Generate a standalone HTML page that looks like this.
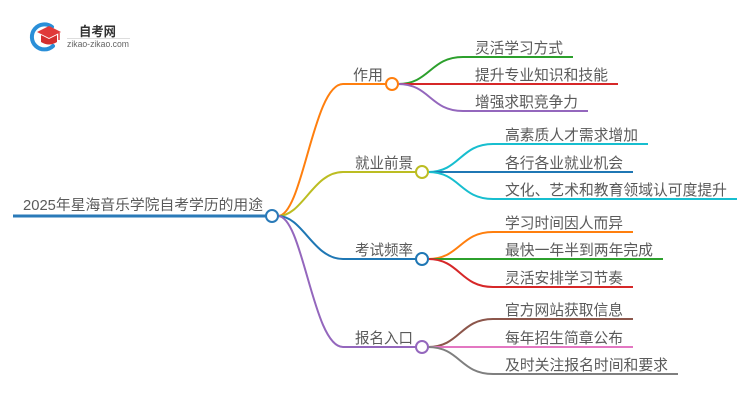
<!DOCTYPE html>
<html>
<head>
<meta charset="utf-8">
<style>
  html,body{margin:0;padding:0;background:#fff;}
  body{width:750px;height:410px;overflow:hidden;}
  svg{display:block;}
  text{font-family:"Liberation Sans","Noto Sans CJK SC",sans-serif;fill:#5a5a5a;}
</style>
</head>
<body>
<svg width="750" height="410" viewBox="0 0 750 410" xmlns="http://www.w3.org/2000/svg">
  <!-- Logo -->
  <g>
    <path d="M52,27 A12.5,12.5 0 1 0 53,46" fill="none" stroke="#2a8fd8" stroke-width="4" stroke-linecap="round"/>
    <path d="M37,32 L49,26 L61,32 L49,38 Z" fill="#e03a3a"/>
    <path d="M41,35 L41,42 Q49,47 57,42 L57,35 L49,39 Z" fill="#d42f2f"/>
    <line x1="59" y1="33" x2="59" y2="40" stroke="#e03a3a" stroke-width="1.5"/>
    <text x="79" y="36" font-size="13" font-weight="bold" style="fill:#333" textLength="37" lengthAdjust="spacingAndGlyphs">自考网</text>
    <line x1="67" y1="38.5" x2="130" y2="38.5" stroke="#ddd" stroke-width="1"/>
    <text x="67" y="47" font-size="9" style="fill:#666" textLength="62" lengthAdjust="spacingAndGlyphs">zikao-zikao.com</text>
  </g>

  <!-- Root -->
  <line x1="13" y1="216" x2="266" y2="216" stroke="#2a7ab8" stroke-width="3"/>
  <text x="23" y="210" font-size="14.5" textLength="240" lengthAdjust="spacingAndGlyphs">2025年星海音乐学院自考学历的用途</text>

  <!-- Root to level1 curves -->
  <path d="M278,216 C303,216 313,84 343,84 L386,84" fill="none" stroke="#ff7f0e" stroke-width="2"/>
  <path d="M278,216 C303,216 313,172 343,172 L416,172" fill="none" stroke="#bcbd22" stroke-width="2"/>
  <path d="M278,216 C303,216 313,259 343,259 L416,259" fill="none" stroke="#1f77b4" stroke-width="2"/>
  <path d="M278,216 C303,216 313,347 343,347 L416,347" fill="none" stroke="#9467bd" stroke-width="2"/>

  <circle cx="272" cy="216" r="6" fill="#fff" stroke="#2a7ab8" stroke-width="2"/>

  <!-- Level1 labels -->
  <text x="353" y="80" font-size="15" textLength="30" lengthAdjust="spacingAndGlyphs">作用</text>
  <text x="355" y="168" font-size="15" textLength="58" lengthAdjust="spacingAndGlyphs">就业前景</text>
  <text x="355" y="255" font-size="15" textLength="58" lengthAdjust="spacingAndGlyphs">考试频率</text>
  <text x="355" y="343" font-size="15" textLength="58" lengthAdjust="spacingAndGlyphs">报名入口</text>

  <!-- 作用 children -->
  <path d="M398,84 C430,84 430,57 463,57 L573,57" fill="none" stroke="#2ca02c" stroke-width="2"/>
  <path d="M398,84 L618,84" fill="none" stroke="#d62728" stroke-width="2"/>
  <path d="M398,84 C430,84 430,111 463,111 L588,111" fill="none" stroke="#9467bd" stroke-width="2"/>
  <circle cx="392" cy="84" r="6" fill="#fff" stroke="#ff7f0e" stroke-width="2"/>
  <text x="475" y="53" font-size="15" textLength="88" lengthAdjust="spacingAndGlyphs">灵活学习方式</text>
  <text x="475" y="80" font-size="15" textLength="133" lengthAdjust="spacingAndGlyphs">提升专业知识和技能</text>
  <text x="475" y="107" font-size="15" textLength="103" lengthAdjust="spacingAndGlyphs">增强求职竞争力</text>

  <!-- 就业前景 children -->
  <path d="M428,172 C460,172 460,144 493,144 L648,144" fill="none" stroke="#17becf" stroke-width="2"/>
  <path d="M428,172 L633,172" fill="none" stroke="#1f77b4" stroke-width="2"/>
  <path d="M428,172 C460,172 460,199 493,199 L737,199" fill="none" stroke="#17becf" stroke-width="2"/>
  <circle cx="422" cy="172" r="6" fill="#fff" stroke="#bcbd22" stroke-width="2"/>
  <text x="505" y="140" font-size="15" textLength="133" lengthAdjust="spacingAndGlyphs">高素质人才需求增加</text>
  <text x="505" y="168" font-size="15" textLength="118" lengthAdjust="spacingAndGlyphs">各行各业就业机会</text>
  <text x="505" y="195" font-size="15" textLength="222" lengthAdjust="spacingAndGlyphs">文化、艺术和教育领域认可度提升</text>

  <!-- 考试频率 children -->
  <path d="M428,259 C460,259 460,232 493,232 L633,232" fill="none" stroke="#ff7f0e" stroke-width="2"/>
  <path d="M428,259 L663,259" fill="none" stroke="#2ca02c" stroke-width="2"/>
  <path d="M428,259 C460,259 460,287 493,287 L633,287" fill="none" stroke="#d62728" stroke-width="2"/>
  <circle cx="422" cy="259" r="6" fill="#fff" stroke="#1f77b4" stroke-width="2"/>
  <text x="505" y="228" font-size="15" textLength="118" lengthAdjust="spacingAndGlyphs">学习时间因人而异</text>
  <text x="505" y="255" font-size="15" textLength="148" lengthAdjust="spacingAndGlyphs">最快一年半到两年完成</text>
  <text x="505" y="283" font-size="15" textLength="118" lengthAdjust="spacingAndGlyphs">灵活安排学习节奏</text>

  <!-- 报名入口 children -->
  <path d="M428,347 C460,347 460,319 493,319 L633,319" fill="none" stroke="#8c564b" stroke-width="2"/>
  <path d="M428,347 L633,347" fill="none" stroke="#e377c2" stroke-width="2"/>
  <path d="M428,347 C460,347 460,374 493,374 L678,374" fill="none" stroke="#7f7f7f" stroke-width="2"/>
  <circle cx="422" cy="347" r="6" fill="#fff" stroke="#9467bd" stroke-width="2"/>
  <text x="505" y="315" font-size="15" textLength="118" lengthAdjust="spacingAndGlyphs">官方网站获取信息</text>
  <text x="505" y="343" font-size="15" textLength="118" lengthAdjust="spacingAndGlyphs">每年招生简章公布</text>
  <text x="505" y="370" font-size="15" textLength="163" lengthAdjust="spacingAndGlyphs">及时关注报名时间和要求</text>
</svg>
</body>
</html>
